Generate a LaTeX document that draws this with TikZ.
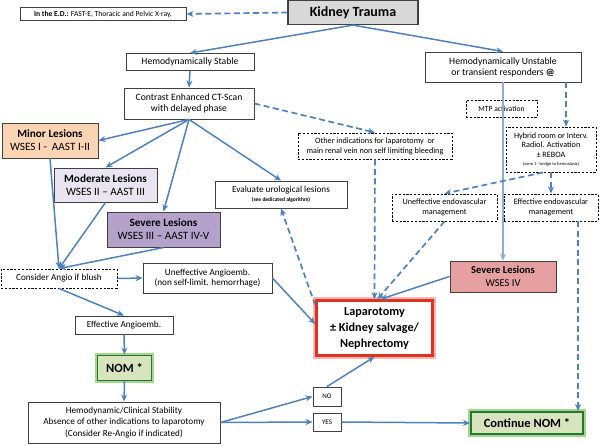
\documentclass[tikz,border=0pt]{standalone}
\usepackage{fontspec}
\setmainfont{Carlito}
\usetikzlibrary{arrows.meta}
\definecolor{ablue}{HTML}{4F81BD}
\definecolor{boxgray}{HTML}{404040}
\definecolor{ktfill}{HTML}{D9D9D9}
\definecolor{minorfill}{HTML}{FBD4B4}
\definecolor{modfill}{HTML}{E9E5F0}
\definecolor{sevpfill}{HTML}{B4A2CB}
\definecolor{sevrfill}{HTML}{E6A0A0}
\definecolor{lapred}{HTML}{E0301E}
\definecolor{lapglow}{HTML}{F6B9B2}
\definecolor{nomfill}{HTML}{D7E4BD}
\definecolor{nomgreen}{HTML}{1F7A30}
\definecolor{nomglow}{HTML}{A9D48E}
\begin{document}
\begin{tikzpicture}[x=1pt,y=-1pt,
  box/.style={draw=boxgray, line width=0.9pt, fill=white, inner sep=0pt, align=center, font=\fontsize{9.7}{11}\selectfont},
  dbox/.style={box, draw=black, dash pattern=on 2.2pt off 1.6pt, line width=0.9pt},
  arr/.style={ablue, line width=1.5pt, -{Stealth[length=7pt,width=6pt]}},
  darr/.style={arr, dash pattern=on 6pt off 3.5pt, line width=1.7pt},
  lesion/.style={box, draw=boxgray, line width=1pt, font=\fontsize{11.2}{13}\selectfont},
  nomstyle/.style={box, fill=nomfill, draw=nomgreen, line width=1.9pt, preaction={draw=nomglow, line width=5.5pt}, font=\bfseries\fontsize{12.5}{14}\selectfont},
]
\useasboundingbox (0,0) rectangle (600,445);

% nodes
\node[box, fill=ktfill, draw=boxgray, line width=1.2pt, minimum width=130pt, minimum height=24pt, font=\bfseries\fontsize{14}{16}\selectfont] (kt) at (353,12.5) {Kidney Trauma};
\node[box, minimum width=166pt, minimum height=13pt, font=\fontsize{7.6}{8.5}\selectfont] (ed) at (103,14) {\textbf{In the E.D.:} FAST-E, Thoracic and Pelvic X-ray,};
\node[box, minimum width=128pt, minimum height=17pt] (st) at (190,62) {Hemodynamically Stable};
\node[box, minimum width=156pt, minimum height=30pt] (un) at (503,67) {Hemodynamically Unstable\\ or transient responders \textbf{@}};
\node[box, minimum width=130pt, minimum height=31pt] (ct) at (189,103.5) {Contrast Enhanced CT-Scan\\ with delayed phase};
\node[lesion, fill=minorfill, minimum width=96pt, minimum height=35pt] (minor) at (50,140.5) {\textbf{Minor Lesions}\\WSES I -\ \ AAST I-II};
\node[lesion, fill=modfill, minimum width=103pt, minimum height=34pt] (mod) at (105.5,185) {\textbf{Moderate Lesions}\\WSES II – AAST III};
\node[lesion, fill=sevpfill, minimum width=113pt, minimum height=35pt] (sevp) at (163.5,229.5) {\textbf{Severe Lesions}\\WSES III – AAST IV-V};
\node[box, minimum width=132pt, minimum height=27pt, font=\fontsize{9.2}{10}\selectfont] (eval) at (281,194.5) {Evaluate urological lesions\\[-1pt] {\fontsize{5.5}{6}\selectfont\bfseries (see dedicated algorithm)}};
\node[dbox, minimum width=154pt, minimum height=26pt, font=\fontsize{8.2}{10}\selectfont] (other) at (375,146) {Other indications for laparotomy\ \ or\\ main renal vein non self limiting bleeding};
\node[dbox, fill=none, minimum width=71pt, minimum height=17pt, font=\fontsize{7.6}{9}\selectfont] (mtp) at (501.5,108.5) {MTP activation};
\node[dbox, minimum width=90pt, minimum height=45pt, font=\fontsize{8.2}{9.5}\selectfont] (hyb) at (551,149.5) {Hybrid room or Interv.\\ Radiol. Activation\\ ± REBOA\\[-1pt] {\fontsize{4.5}{5}\selectfont (zone 1 - bridge to hemostasis)}};
\node[dbox, minimum width=105pt, minimum height=27pt, font=\fontsize{8.2}{10}\selectfont] (uee) at (444.5,207.5) {Uneffective endovascular\\ management};
\node[dbox, minimum width=94pt, minimum height=27pt, font=\fontsize{8.2}{10}\selectfont] (eee) at (551,207.5) {Effective endovascular\\ management};
\node[box, fill=sevrfill, line width=1pt, minimum width=106pt, minimum height=31pt, font=\fontsize{10.5}{12.5}\selectfont] (sevr) at (503,276.5) {\textbf{Severe Lesions}\\WSES IV};
\node[box, draw=lapred, line width=2.6pt, preaction={draw=lapglow, line width=6.5pt}, minimum width=116pt, minimum height=55pt, font=\bfseries\fontsize{12.2}{16}\selectfont] (lap) at (374.5,328) {Laparotomy\\ ± Kidney salvage/\\ Nephrectomy};
\node[dbox, minimum width=116pt, minimum height=19pt, font=\fontsize{9.2}{10}\selectfont] (cons) at (59,278.5) {Consider Angio if blush};
\node[box, minimum width=129pt, minimum height=30pt, font=\fontsize{9.2}{10.5}\selectfont] (ua) at (207.5,278) {Uneffective Angioemb.\\ (non self-limit. hemorrhage)};
\node[box, minimum width=98pt, minimum height=18pt, font=\fontsize{9.2}{10}\selectfont] (ea) at (124,325) {Effective Angioemb.};
\node[nomstyle, minimum width=54pt, minimum height=25pt] (nom) at (124.5,368) {NOM *};
\node[box, minimum width=192pt, minimum height=41pt, font=\fontsize{9.2}{11.5}\selectfont] (hcs) at (124,422.5) {Hemodynamic/Clinical Stability\\ Absence of other indications to laparotomy\\ (Consider Re-Angio if indicated)};
\node[box, minimum width=28pt, minimum height=19pt, font=\fontsize{7}{8}\selectfont] (no) at (327,396.5) {NO};
\node[box, minimum width=28pt, minimum height=18pt, font=\fontsize{7}{8}\selectfont] (yes) at (327,422) {YES};
\node[nomstyle, minimum width=112pt, minimum height=22pt] (cnom) at (527,423) {Continue NOM *};

% connectors
\draw[darr] (kt.west) -- (ed.east);
\draw[arr] (kt.south) -- (st.north);
\draw[arr] (kt.south) -- (un.north);
\draw[arr] (st.south) -- (ct.north);
\draw[arr] (ct.south) -- (minor.east);
\draw[arr] (ct.south) -- (mod.north);
\draw[arr] (ct.south) -- (sevp.north);
\draw[arr] (ct.south) -- (eval.north);
\draw[darr] (ct.east) -- (other.north);
\draw[arr] (minor.south) -- (cons.north);
\draw[arr] (mod.south) -- (cons.north);
\draw[arr] (sevp.south) -- (cons.north);
\draw[arr] (cons.east) -- (ua.west);
\draw[arr] (cons.south) -- (ea.north);
\draw[arr] (ea.south) -- (nom.north);
\draw[arr] (nom.south) -- (hcs.north);
\draw[arr] (ua.east) -- ([yshift=4pt]lap.west);
\draw[darr] ([yshift=-6pt]lap.north west) -- (eval.south);
\draw[darr] (other.south) -- (lap.north);
\draw[darr] (uee.south) -- ([xshift=3pt]lap.north);
\draw[arr] (sevr.west) -- ([xshift=6pt]lap.north);
\draw[arr, ablue!65] (un.south) -- (sevr.north);
\draw[darr] ([xshift=15pt]hyb.north |- un.south) -- ([xshift=15pt]hyb.north);
\draw[darr] ([xshift=-8pt]hyb.south) -- (uee.north);
\draw[darr] (hyb.south) -- (eee.north);
\draw[darr] ([xshift=27pt]eee.south) -- ([xshift=27pt]eee.south |- cnom.north);
\draw[arr] (hcs.east) -- (no.west);
\draw[arr] (hcs.east) -- (yes.west);
\draw[arr] (no.north) -- (lap.south);
\draw[arr] (yes.east) -- (cnom.west);
\end{tikzpicture}
\end{document}
